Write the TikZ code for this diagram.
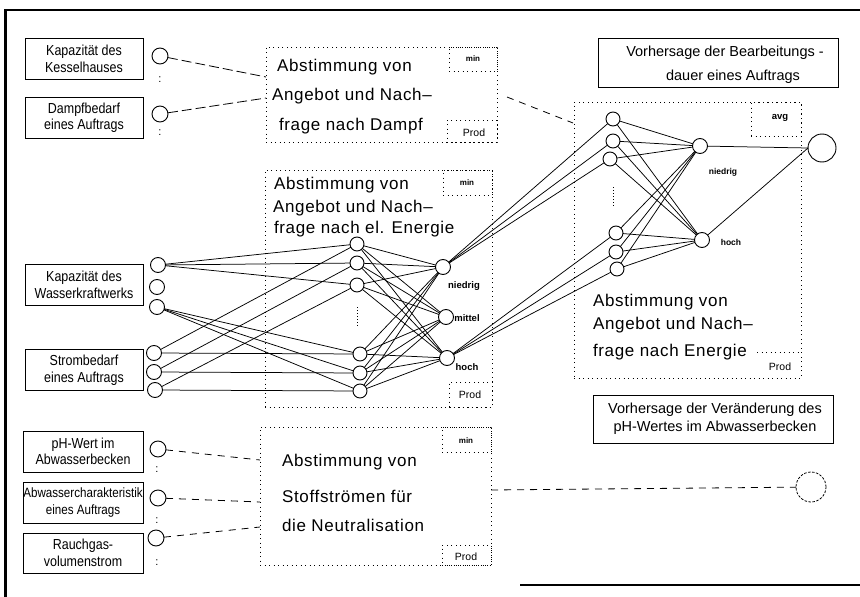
\documentclass[tikz,border=0pt]{standalone}
\usepackage{fontspec}
\setmainfont{Liberation Sans}
\newfontfamily\widefont{Liberation Sans}[LetterSpace=4]
\newfontfamily\narrowfont{Liberation Sans}[FakeStretch=0.86]
\begin{document}
\begin{tikzpicture}[x=1pt,y=-1pt,
  every node/.style={inner sep=0pt, outer sep=0pt},
  inbox/.style={draw, line width=0.9pt, minimum width=118pt, minimum height=41pt, align=center,
    font=\narrowfont\fontsize{14.5}{16.5}\selectfont},
  dotbox/.style={draw, line width=0.9pt, dash pattern=on 0.9pt off 3.6pt, anchor=north west},
  dotline/.style={line width=0.9pt, dash pattern=on 0.9pt off 3.6pt},
  bigline/.style={anchor=west, font=\widefont\fontsize{17}{20}\selectfont, text height=12pt, text depth=3.5pt},
  tag/.style={font=\bfseries\fontsize{8}{9}\selectfont},
  prodtag/.style={font=\fontsize{10.5}{12}\selectfont},
  lvl/.style={font=\bfseries\fontsize{9.5}{11}\selectfont},
  predline/.style={font=\fontsize{14.5}{16}\selectfont},
  incirc/.style={draw, circle, line width=0.9pt, minimum size=16pt},
  unit/.style={draw, circle, line width=0.9pt, minimum size=14pt},
  link/.style={line width=0.75pt},
  feed/.style={line width=0.8pt, dash pattern=on 10pt off 4pt},
  feedb/.style={line width=0.8pt, dash pattern=on 7pt off 6pt},
  dots/.style={line width=1pt, dash pattern=on 1pt off 2pt},
  colon/.style={font=\fontsize{11}{12}\selectfont}
]
\useasboundingbox (0,0) rectangle (860,597);

% outer frame
\draw[line width=2.2pt] (5.5,597) -- (5.5,10) -- (860,10);
\draw[line width=1.8pt] (520,585) -- (860,585);

% ---------- input boxes ----------
\node[inbox] (kessel) at (84,59) {Kapazität des\\Kesselhauses};
\node[inbox] (dampfbed) at (84,117.5) {Dampfbedarf\\eines Auftrags};
\node[inbox] (wasser) at (84,285) {Kapazität des\\Wasserkraftwerks};
\node[inbox] (strom) at (84,370) {Strombedarf\\eines Auftrags};
\node[inbox, minimum width=120pt] (phwert) at (83,451.5) {pH-Wert im\\Abwasserbecken};
\node[inbox, minimum width=120pt, font=\narrowfont\fontsize{13.5}{16.5}\selectfont] (abw) at (83,502.5) {Abwassercharakteristik\\eines Auftrags};
\node[inbox, minimum width=120pt, minimum height=40pt] (rauch) at (83,553) {Rauchgas-\\volumenstrom};

% input units
\node[incirc] (kin) at (160,56) {};
\node[incirc] (din) at (160,114) {};
\node[unit, minimum size=15pt] (w1) at (158,265) {};
\node[unit, minimum size=15pt] (w2) at (157,287) {};
\node[unit, minimum size=15pt] (w3) at (157,307) {};
\node[unit, minimum size=15pt] (s1) at (154,353) {};
\node[unit, minimum size=15pt] (s2) at (154,372) {};
\node[unit, minimum size=15pt] (s3) at (155,390) {};
\node[incirc] (pin) at (158,449) {};
\node[incirc] (ain) at (158,498) {};
\node[incirc] (rin) at (156,538) {};

\node[colon] (kc) at (160,80) {:};
\node[colon] (dc) at (160,133) {:};
\node[colon] (pc) at (157,470) {:};
\node[colon] (ac) at (157,521) {:};
\node[colon] (rc) at (157,563) {:};

% ---------- steam block ----------
\node[dotbox, minimum width=231pt, minimum height=95pt] (dampf) at (266,47) {};
\node[dotbox, minimum width=48pt, minimum height=24pt] (dampfmin) at (449,47) {};
\node[dotbox, minimum width=50pt, minimum height=22pt] (dampfprod) at (447,120) {};
\node[tag] (dampfminl) at (473,59) {min};
\node[prodtag] (dampfprodl) at (474,133) {Prod};
\node[bigline] (dampf1) at (277,67) {Abstimmung von};
\node[bigline] (dampf2) at (272,96) {Angebot und Nach\textendash};
\node[bigline] (dampf3) at (279,126) {frage nach Dampf};

% ---------- electricity block ----------
\node[dotbox, minimum width=227pt, minimum height=237pt] (elec) at (265,170) {};
\node[dotbox, minimum width=49pt, minimum height=25pt] (elecmin) at (443,170) {};
\node[dotbox, minimum width=43pt, minimum height=25pt] (elecprod) at (449,382) {};
\node[tag] (elecminl) at (467,183) {min};
\node[prodtag] (elecprodl) at (470,395) {Prod};
\node[bigline] (elec1) at (274,185) {Abstimmung von};
\node[bigline] (elec2) at (273,208) {Angebot und Nach\textendash};
\node[bigline] (elec3) at (274,229) {frage nach el. Energie};

\node[unit] (h1) at (357,244) {};
\node[unit] (h2) at (357,263) {};
\node[unit] (h3) at (357,285) {};
\node[unit] (b1) at (360,354) {};
\node[unit] (b2) at (360,373) {};
\node[unit] (b3) at (360,391) {};
\draw[dots] (357,307) -- (357,328);

\node[unit, minimum size=15pt] (on) at (443,267) {};
\node[unit, minimum size=15pt] (om) at (446,317) {};
\node[unit, minimum size=15pt] (oh) at (447,358) {};
\node[lvl] (onl) at (464,286) {niedrig};
\node[lvl] (oml) at (467,318) {mittel};
\node[lvl] (ohl) at (467,367) {hoch};

% ---------- overall energy block ----------
\node[dotbox, minimum width=227pt, minimum height=276pt] (energy) at (574,102) {};
\node[dotbox, minimum width=50pt, minimum height=34pt] (energyavg) at (751,102) {};
\node[tag, font=\bfseries\fontsize{9.5}{11}\selectfont] (energyavgl) at (780,118) {avg};
\draw[dotline] (757,352) -- (801,352);
\node[prodtag] (energyprodl) at (780,367) {Prod};
\node[bigline] (energy1) at (593,302) {Abstimmung von};
\node[bigline] (energy2) at (593,325) {Angebot und Nach\textendash};
\node[bigline] (energy3) at (593,352) {frage nach Energie};

\node[unit] (t1) at (613,119) {};
\node[unit] (t2) at (613,141) {};
\node[unit] (t3) at (610,159) {};
\node[unit] (u1) at (616,233) {};
\node[unit] (u2) at (616,252) {};
\node[unit] (u3) at (617,269) {};
\draw[dots] (613,187) -- (613,206);

\node[unit, minimum size=15pt] (rn) at (700,146) {};
\node[unit, minimum size=15pt] (rh) at (702,240) {};
\node[lvl, font=\bfseries\fontsize{8.5}{10}\selectfont] (rnl) at (723,172) {niedrig};
\node[lvl, font=\bfseries\fontsize{8.5}{10}\selectfont] (rhl) at (731,242) {hoch};

\node[draw, circle, line width=0.9pt, minimum size=28pt] (fin) at (822,148) {};

% ---------- neutralisation block ----------
\node[dotbox, minimum width=231pt, minimum height=138pt] (neut) at (260,427) {};
\node[dotbox, minimum width=49pt, minimum height=25pt] (neutmin) at (442,427) {};
\node[dotbox, minimum width=49pt, minimum height=20pt] (neutprod) at (442,545) {};
\node[tag] (neutminl) at (466,441) {min};
\node[prodtag] (neutprodl) at (466,557) {Prod};
\node[bigline] (neut1) at (282,462) {Abstimmung von};
\node[bigline] (neut2) at (282,498) {Stoffströmen für};
\node[bigline] (neut3) at (282,527) {die Neutralisation};

\node[draw, circle, line width=0.8pt, dash pattern=on 2.5pt off 1.5pt, minimum size=30pt] (phout) at (811,487) {};

% ---------- forecast boxes ----------
\node[draw, line width=0.8pt, minimum width=240pt, minimum height=49pt] (dauer) at (718,62.5) {};
\node[predline] (dauer1) at (725,53) {Vorhersage der Bearbeitungs -};
\node[predline] (dauer2) at (733,77) {dauer eines Auftrags};
\node[draw, line width=0.8pt, minimum width=240pt, minimum height=48pt] (phpred) at (713,419) {};
\node[predline] (phpred1) at (715,410) {Vorhersage der Veränderung des};
\node[predline] (phpred2) at (715,428) {pH-Wertes im Abwasserbecken};

% ---------- dashed couplings ----------
\coordinate (dampfin1) at (266,77);
\coordinate (dampfin2) at (266,98);
\coordinate (dampfout) at (507,97);
\coordinate (energyin) at (573,123);
\coordinate (neutin1) at (260,460);
\coordinate (neutin2) at (260,502);
\coordinate (neutin3) at (260,527);
\coordinate (neutout) at (491,490);
\draw[feed] (kin) -- (dampfin1);
\draw[feed] (din) -- (dampfin2);
\draw[feedb] (dampfout) -- (energyin);
\draw[feedb] (pin) -- (neutin1);
\draw[feedb] (ain) -- (neutin2);
\draw[feedb] (rin) -- (neutin3);
\draw[feedb] (neutout) -- (phout);

% ---------- network links ----------
\foreach \b in {h1,h2,h3} \draw[link] (w1) -- (\b);
\foreach \b in {b1,b2,b3} \draw[link] (w3) -- (\b);
\draw[link] (s1) -- (h1);
\draw[link] (s1) -- (b1);
\draw[link] (s2) -- (h2);
\draw[link] (s2) -- (b2);
\draw[link] (s3) -- (h3);
\draw[link] (s3) -- (b3);
\foreach \a in {h1,h2,h3,b1,b2,b3}
  \foreach \b in {on,om,oh} \draw[link] (\a) -- (\b);
\foreach \b in {t1,t2,t3} \draw[link] (on) -- (\b);
\foreach \b in {u1,u2,u3} \draw[link] (oh) -- (\b);
\foreach \a in {t1,t2,t3,u1,u2,u3}
  \foreach \b in {rn,rh} \draw[link] (\a) -- (\b);
\draw[link] (rn) -- (fin.west);
\draw[link] (rh) -- (fin.west);
\end{tikzpicture}
\end{document}
